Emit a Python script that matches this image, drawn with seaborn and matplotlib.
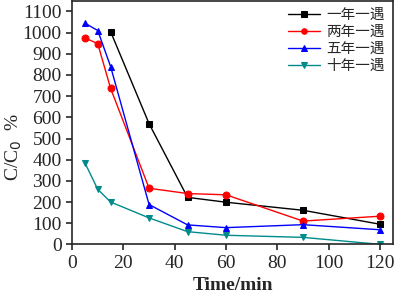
import pandas as pd
import matplotlib.pyplot as plt
import seaborn as sns

# data
t_1yr = [15, 30, 45, 60, 90, 120]
c_1yr = [1005, 570, 222, 199, 161, 95]
t_other = [5, 10, 15, 30, 45, 60, 90, 120]
c_2yr = [975, 948, 737, 265, 240, 234, 110, 133]
c_5yr = [1045, 1010, 840, 188, 92, 79, 93, 69]
c_10yr = [385, 260, 200, 125, 60, 43, 33, 0]
labels = ['一年一遇', '两年一遇', '五年一遇', '十年一遇']

rows = []
for t, c in zip(t_1yr, c_1yr):
    rows.append((t, c, labels[0]))
for vals, lab in [(c_2yr, labels[1]), (c_5yr, labels[2]), (c_10yr, labels[3])]:
    for t, c in zip(t_other, vals):
        rows.append((t, c, lab))
data = pd.DataFrame(rows, columns=['time', 'conc', 'period'])

sns.set_style('ticks')
plt.rcParams['font.family'] = ['Liberation Serif', 'Noto Sans CJK SC']
plt.rcParams['axes.linewidth'] = 1.2

fig = plt.figure(figsize=(3.94, 2.98), dpi=100)
ax = fig.add_axes([0.183, 0.180, 0.814, 0.817])

colors = ['black', 'red', 'blue', '#008B8B']
markers = ['s', 'o', '^', 'v']
for lab, col, mk in zip(labels, colors, markers):
    sub = data[data['period'] == lab]
    sns.lineplot(data=sub, x='time', y='conc', ax=ax, color=col, marker=mk,
                 markersize=5, markeredgecolor=col, linewidth=1.0, label=lab)

ax.set_xlim(0, 125)
ax.set_ylim(0, 1150)
ax.set_xticks(range(0, 121, 20))
ax.set_yticks(range(0, 1101, 100))
ax.tick_params(labelsize=14, direction='out', length=4, width=1.2)
ax.set_xlabel('Time/min', fontsize=14, fontweight='bold')
ax.set_ylabel('C/C$_0$  %', fontsize=14)
ax.yaxis.set_label_coords(-0.15, 0.40)
leg = ax.legend(loc='upper right', frameon=False, fontsize=10.5,
                handlelength=2.2, borderaxespad=0.15, labelspacing=0.25,
                markerscale=0.8, handletextpad=0.4)

plt.savefig('out.png', dpi=100)
